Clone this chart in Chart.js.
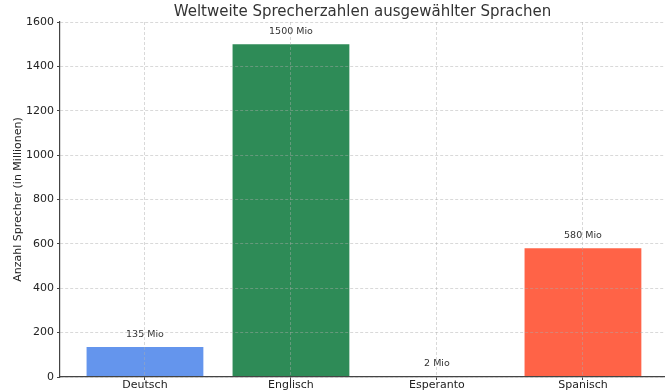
<!DOCTYPE html>
<html>
<head>
<meta charset="utf-8">
<script src="https://cdn.jsdelivr.net/npm/chart.js@4"></script>
<style>
  html, body { margin: 0; padding: 0; background: #fff; }
  #wrap { width: 665px; height: 391px; }
</style>
</head>
<body>
<div id="wrap"><canvas id="graf"></canvas></div>
<script>
// daten
const SPRACHEN = ["Deutsch", "Englisch", "Esperanto", "Spanisch"];
const SPRECHER = [135, 1500, 2, 580];            // in Millionen
const Y_TICKS  = [0, 200, 400, 600, 800, 1000, 1200, 1400, 1600];

// farben (matplotlib-namen)
const FARBEN = ["#6495ED", "#2E8B57", "#FFD700", "#FF6347"];
const FONT = "'DejaVu Sans', sans-serif";
const GRID = "rgba(170,170,170,0.45)";

// beschriftung "xxx Mio" über jedem balken
const balkenText = {
  id: "balkenText",
  afterDatasetsDraw(chart) {
    const ctx = chart.ctx;
    ctx.save();
    ctx.font = "9.5px " + FONT;
    ctx.fillStyle = "#333";
    ctx.textAlign = "center";
    ctx.textBaseline = "bottom";
    chart.getDatasetMeta(0).data.forEach((bar, i) => {
      ctx.fillText(SPRECHER[i] + " Mio", bar.x, bar.y - 8);
    });
    ctx.restore();
  },
};

new Chart(document.getElementById("graf"), {
  type: "bar",
  data: {
    datasets: [{
      data: SPRECHER.map((v, i) => ({ x: i, y: v })),
      backgroundColor: FARBEN,
      barPercentage: 0.8,
      categoryPercentage: 1.0,
    }],
  },
  options: {
    responsive: true, maintainAspectRatio: false, animation: false,
    layout: { padding: 0 },
    plugins: {
      legend: { display: false },
      tooltip: { enabled: false },
      title: {
        display: true, fullSize: false,
        text: "Weltweite Sprecherzahlen ausgewählter Sprachen",
        color: "#333", font: { family: FONT, size: 15, weight: "normal" },
        padding: { top: 3, bottom: 1 },
      },
    },
    scales: {
      x: {
        type: "linear", min: -0.582, max: 3.562, offset: false,
        afterBuildTicks: s => { s.ticks = SPRACHEN.map((_, i) => ({ value: i })); },
        afterFit: s => { s.height = 14; },
        ticks: {
          callback: v => SPRACHEN[v] ?? "",
          color: "#222", font: { family: FONT, size: 11 }, padding: -1,
          maxRotation: 0, autoSkip: false,
        },
        grid: { color: GRID, z: 1, offset: false, tickLength: 3, tickColor: "#444" },
        border: { color: "#444", width: 1.2, dash: [3, 2], z: 1 },
      },
      y: {
        min: 0, max: 1600,
        afterBuildTicks: s => { s.ticks = Y_TICKS.map(v => ({ value: v })); },
        afterFit: s => { s.width = 60; },
        title: {
          display: true, text: "Anzahl Sprecher (in Millionen)",
          color: "#222", font: { family: FONT, size: 11 }, padding: { top: 12, bottom: 0 },
        },
        ticks: {
          callback: v => String(v),
          color: "#222", font: { family: FONT, size: 11 }, padding: 3,
        },
        grid: { color: GRID, z: 1, tickLength: 3, tickColor: "#444" },
        border: { color: "#444", width: 1.2, dash: [3, 2], z: 1 },
      },
    },
  },
  plugins: [balkenText],
});
</script>
</body>
</html>
